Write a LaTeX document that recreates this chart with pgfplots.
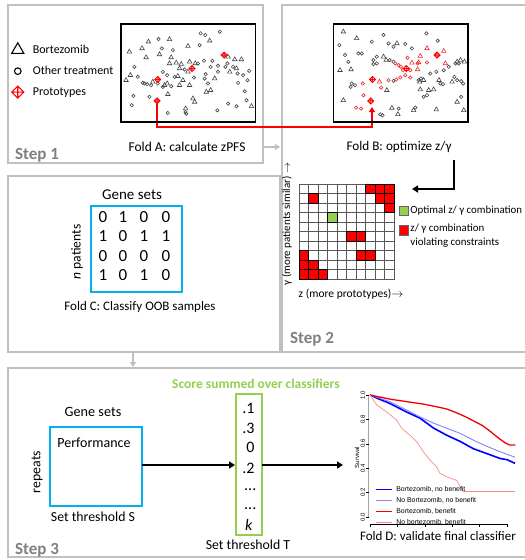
\documentclass[border=0pt]{standalone}
\usepackage{pgfplots}
\pgfplotsset{compat=1.18}
\usepackage{fontspec}
\setmainfont{Carlito}
\newfontfamily\arialf{Liberation Sans}
\usetikzlibrary{arrows.meta}
\definecolor{panel}{RGB}{192,192,192}
\definecolor{steptxt}{RGB}{128,128,128}
\definecolor{cyanb}{RGB}{0,176,240}
\definecolor{greenb}{RGB}{146,208,80}
\definecolor{ptgray}{RGB}{70,70,70}
\definecolor{redpt}{RGB}{240,40,40}
\definecolor{bluek}{RGB}{0,0,255}
\definecolor{lblue}{RGB}{130,130,255}
\definecolor{redk}{RGB}{240,0,0}
\definecolor{pinkk}{RGB}{255,135,135}
\pgfdeclareplotmark{dplus}{%
  \pgfpathmoveto{\pgfqpoint{0pt}{\pgfplotmarksize}}%
  \pgfpathlineto{\pgfqpoint{\pgfplotmarksize}{0pt}}%
  \pgfpathlineto{\pgfqpoint{0pt}{-\pgfplotmarksize}}%
  \pgfpathlineto{\pgfqpoint{-\pgfplotmarksize}{0pt}}%
  \pgfpathclose
  \pgfpathmoveto{\pgfqpoint{-\pgfplotmarksize}{0pt}}%
  \pgfpathlineto{\pgfqpoint{\pgfplotmarksize}{0pt}}%
  \pgfpathmoveto{\pgfqpoint{0pt}{-\pgfplotmarksize}}%
  \pgfpathlineto{\pgfqpoint{0pt}{\pgfplotmarksize}}%
  \pgfusepathqstroke
}
\begin{document}
\begin{tikzpicture}
\begin{scope}[x=1pt,y=1pt]
\useasboundingbox (0,0) rectangle (523,-560);
\fill[white] (0,0) rectangle (523,-560);
% ---------------- panels
\draw[panel, line width=2pt] (8,-5) rectangle (263,-163);
\draw[panel, line width=2pt] (282,-5) rectangle (530,-352);
\draw[panel, line width=2pt] (8,-176) rectangle (280,-352);
\draw[panel, line width=2pt] (8,-368) rectangle (530,-557);
\draw[panel, line width=2pt, -{Triangle[length=5pt,width=6pt]}] (264,-147) -- (280,-147);
\draw[panel, line width=2pt, -{Triangle[length=5pt,width=6pt]}] (133,-353) -- (133,-367);
% step labels
\node[anchor=base west, text=steptxt, font=\fontsize{17}{19}\selectfont\bfseries, inner sep=0pt] at (15,-159) {Step 1};
\node[anchor=base west, text=steptxt, font=\fontsize{17}{19}\selectfont\bfseries, inner sep=0pt] at (290,-343) {Step 2};
\node[anchor=base west, text=steptxt, font=\fontsize{17}{19}\selectfont\bfseries, inner sep=0pt] at (15,-554) {Step 3};
% texts
\node[font=\fontsize{13.5}{15}\selectfont] at (187,-147) {Fold A: calculate zPFS};
\node[font=\fontsize{13.2}{15}\selectfont] at (399,-147) {Fold B: optimize z/γ};
% red connector
\draw[red, line width=2pt, -{Triangle[length=5pt,width=6pt]}] (157,-104) -- (157,-127) -- (372,-127) -- (372,-107);
% black arrow to grid
\draw[black, line width=1.8pt, -{Triangle[length=6pt,width=7pt]}] (454,-160) -- (454,-189) -- (412,-189);
\node[rotate=90, font=\fontsize{11}{13}\selectfont] at (287,-224) {γ (more patients similar) $\rightarrow$};
\node[font=\fontsize{11.5}{13}\selectfont] at (351,-294) {z (more prototypes)$\rightarrow$};
% ---------------- Fold C
\node[font=\fontsize{15}{17}\selectfont] at (132,-195) {Gene sets};
\draw[cyanb, line width=2.5pt] (91,-206) rectangle (182,-292);
\foreach \y/\a/\b/\c/\d in {217/0/1/0/0, 236/1/0/1/1, 256/0/0/0/0, 275/1/0/1/0} {
  \node[font=\fontsize{17}{19}\selectfont] at (103,-\y) {\a};
  \node[font=\fontsize{17}{19}\selectfont] at (123,-\y) {\b};
  \node[font=\fontsize{17}{19}\selectfont] at (144,-\y) {\c};
  \node[font=\fontsize{17}{19}\selectfont] at (166,-\y) {\d};
}
\node[rotate=90, font=\fontsize{13.6}{15}\selectfont] at (77,-252) {\textit{n} patients};
\node[font=\fontsize{13}{15}\selectfont] at (140,-307) {Fold C: Classify OOB samples};
% ---------------- Step 3
\node[text=greenb, font=\fontsize{13.5}{15}\selectfont\bfseries] at (256,-384) {Score summed over classifiers};
\node[font=\fontsize{14.2}{16}\selectfont] at (93,-412) {Gene sets};
\draw[cyanb, line width=2.5pt] (50,-427) rectangle (142,-506);
\node[font=\fontsize{14}{16}\selectfont] at (94,-443) {Performance};
\node[rotate=90, font=\fontsize{13.8}{16}\selectfont] at (37,-472) {repeats};
\node[font=\fontsize{13.8}{16}\selectfont] at (93,-517) {Set threshold S};
\draw[greenb, line width=2.5pt] (236,-394) rectangle (262,-535);
\node[anchor=east, font=\fontsize{16}{18}\selectfont] at (258,-408) {.1};
\node[anchor=east, font=\fontsize{16}{18}\selectfont] at (258,-428) {.3};
\node[anchor=east, font=\fontsize{16}{18}\selectfont] at (258,-447) {0};
\node[anchor=east, font=\fontsize{16}{18}\selectfont] at (258,-468) {.2};
\node[anchor=base west, font=\fontsize{16}{18}\selectfont, inner sep=0pt] at (244,-490) {...};
\node[anchor=base west, font=\fontsize{16}{18}\selectfont, inner sep=0pt] at (244,-509) {...};
\node[anchor=base west, font=\fontsize{16}{18}\selectfont, inner sep=0pt] at (245,-530) {\textit{k}};
\node[font=\fontsize{13.8}{16}\selectfont] at (248,-545) {Set threshold T};
\draw[black, line width=1.8pt, -{Triangle[length=6pt,width=7pt]}] (142,-465) -- (235,-465);
\draw[black, line width=1.8pt, -{Triangle[length=6pt,width=7pt]}] (262,-465) -- (343,-465);
\node[font=\fontsize{13}{15}\selectfont] at (438,-536) {Fold D: validate final classifier};
\end{scope}
% ---------------- Fold A scatter
\begin{axis}[at={(121pt,-122pt)}, anchor=south west, scale only axis, width=134.5pt, height=98pt,
  xmin=10, xmax=412, ymin=12, ymax=305, y dir=reverse, ticks=none,
  axis line style={black, line width=1.6pt},
  legend style={at={(-0.814,0.81)}, anchor=north west, draw=none, fill=none,
    font=\fontsize{12}{14}\selectfont, row sep=7.5pt, column sep=7pt, inner sep=0pt},
  legend cell align=left]
\addlegendimage{only marks, mark=triangle, mark size=7pt, black, mark options={line width=1.1pt}}
\addlegendentry{Bortezomib}
\addlegendimage{only marks, mark=o, mark size=3.3pt, black, mark options={line width=1.1pt}}
\addlegendentry{Other treatment}
\addlegendimage{only marks, mark=dplus, mark size=6pt, red, mark options={line width=1.1pt}}
\addlegendentry{Prototypes}
\addplot[forget plot, only marks, mark=triangle, mark size=2.6pt, ptgray, mark options={line width=0.6pt}] coordinates {
(35,95) (73,85) (92,65) (155,58) (85,112) (125,103) (210,78) (275,62) (155,130) (175,128)
(190,132) (215,125) (232,130) (185,145) (180,168) (195,180) (210,155) (148,190) (185,195) (215,195)
(290,175) (330,110) (350,118) (370,118) (335,155) (355,145) (38,165) (25,180) (105,185) (140,195)
(150,222) (225,235) (230,245) (265,215) (278,210) (203,265) (400,258) (160,112)};
\addplot[forget plot, only marks, mark=o, mark size=1.7pt, ptgray, mark options={line width=0.6pt}] coordinates {
(50,140) (60,170) (122,57) (132,85) (165,90) (248,40) (262,45) (305,35) (245,75) (258,122)
(263,162) (260,175) (228,172) (270,190) (300,155) (300,137) (345,140) (358,160) (360,188) (375,165)
(388,180) (393,152) (380,213) (330,250) (355,258) (385,240) (298,270) (150,278) (203,275) (95,230)
(47,227) (42,255) (75,188) (88,192) (120,190) (135,200) (160,198) (135,155) (148,165) (170,170)
(200,148) (240,130) (283,122) (278,140) (322,140) (328,130) (80,190) (100,195) (205,280)};
\addplot[forget plot, only marks, mark=dplus, mark size=3pt, red, mark options={line width=0.9pt}] coordinates {(318,105) (222,145) (120,178) (118,242)};
\end{axis}
% ---------------- Fold B scatter
\begin{axis}[at={(333.3pt,-122pt)}, anchor=south west, scale only axis, width=134.5pt, height=98pt,
  xmin=10, xmax=412, ymin=12, ymax=305, y dir=reverse, ticks=none,
  axis line style={black, line width=1.6pt}]
\addplot[only marks, mark=triangle, mark size=2.6pt, ptgray, mark options={line width=0.6pt}] coordinates {
(40,35) (80,55) (30,150) (63,148) (40,240) (200,70) (160,110) (168,120) (380,125) (390,120)
(402,125) (326,180) (270,208) (295,210) (310,208) (380,245) (400,270) (318,268) (185,263) (203,282)
(250,270) (170,210) (268,185) (280,180) (365,185)};
\addplot[only marks, mark=o, mark size=1.7pt, ptgray, mark options={line width=0.6pt}] coordinates {
(28,75) (45,105) (55,125) (85,100) (95,100) (125,65) (160,45) (175,70) (190,80) (225,72)
(245,85) (288,40) (322,62) (140,110) (130,132) (140,130) (190,125) (178,120) (300,160) (318,155)
(340,150) (355,140) (375,130) (385,130) (65,190) (75,195) (62,200) (190,182) (265,180) (272,175)
(280,230) (290,225) (330,190) (338,192) (372,170) (380,180) (392,183) (398,190) (392,230) (150,282)
(157,285) (255,262) (205,265) (130,120)};
\addplot[only marks, mark=triangle, mark size=2.6pt, redpt, mark options={line width=0.6pt}] coordinates {
(270,108) (265,127) (290,85) (340,93) (345,130) (262,148) (148,185) (245,128)};
\addplot[only marks, mark=o, mark size=1.7pt, redpt, mark options={line width=0.6pt}] coordinates {
(100,225) (78,262) (93,265) (98,190) (153,202) (175,180) (195,130) (205,135) (212,140) (232,113)
(225,165) (210,172) (198,178) (240,172) (240,150) (290,127) (262,130) (218,150)};
\addplot[only marks, mark=dplus, mark size=3pt, red, mark options={line width=0.9pt}] coordinates {(320,105) (228,145) (127,178) (122,242)};
\end{axis}
% ---------------- grid
\begin{axis}[at={(299pt,-279pt)}, anchor=south west, scale only axis, width=95pt, height=95pt,
  xmin=0, xmax=10, ymin=0, ymax=10, xtick={0,...,10}, ytick={0,...,10},
  xticklabels={}, yticklabels={}, major tick length=0pt,
  grid=major, grid style={black!65, line width=0.9pt}, axis line style={black!65, line width=0.9pt},
  axis on top,
  legend style={at={(1.05,0.79)}, anchor=north west, draw=none, fill=none,
    font=\fontsize{10.9}{13.5}\selectfont, row sep=5pt, inner sep=0pt, cells={align=left}},
  legend cell align=left]
\addplot[only marks, mark=square*, mark size=4.75pt, fill=greenb, draw=none,
  legend image post style={draw=black!60, line width=0.5pt}] coordinates {(3.5,6.5)};
\addlegendentry{Optimal z/ γ combination}
\addplot[only marks, mark=square*, mark size=4.75pt, fill=red, draw=none,
  legend image post style={draw=black!60, line width=0.5pt, yshift=5.5pt}] coordinates {
(7.5,9.5) (8.5,9.5) (9.5,9.5) (1.5,8.5) (8.5,8.5) (9.5,8.5) (9.5,7.5) (5.5,4.5) (6.5,4.5)
(0.5,2.5) (6.5,2.5) (7.5,2.5) (0.5,1.5) (1.5,1.5) (0.5,0.5) (1.5,0.5) (2.5,0.5)};
\addlegendentry{z/ γ combination\\violating constraints}
\end{axis}
% ---------------- survival
\begin{axis}[at={(368.6pt,-524pt)}, anchor=south west, scale only axis, width=149.4pt, height=132.7pt,
  xmin=-1, xmax=108, ymin=-0.057, ymax=1.03,
  axis x line*=bottom, axis y line*=left, axis line style={draw=none},
  xtick={0,20,40,60,80,100}, xticklabels={}, ytick={0,0.2,0.4,0.6,0.8,1},
  yticklabel style={/pgf/number format/fixed, /pgf/number format/fixed zerofill,
    /pgf/number format/precision=1, /pgf/number format/assume math mode=true,
    rotate=90, anchor=south, font=\arialf\fontsize{6}{6.5}\selectfont, inner sep=1pt},
  tick align=outside, major tick length=2.5pt, tick style={black, line width=0.4pt},
  ylabel={Survival}, ylabel style={font=\arialf\fontsize{6}{6.5}\selectfont, yshift=-3pt},
  legend style={at={(0.04,0.3)}, anchor=north west, draw=none, fill=none,
    font=\arialf\fontsize{6.9}{7.5}\selectfont, row sep=0.5pt, column sep=2pt, inner sep=0pt},
  legend cell align=left]
\addlegendimage{legend image code/.code={\draw[bluek, line width=1.6pt] (0pt,0pt) -- (16pt,0pt);}}
\addlegendentry{Bortezomib, no benefit}
\addlegendimage{legend image code/.code={\draw[lblue, line width=0.9pt] (0pt,0pt) -- (16pt,0pt);}}
\addlegendentry{No Bortezomib, no benefit}
\addlegendimage{legend image code/.code={\draw[redk, line width=1.3pt] (0pt,0pt) -- (16pt,0pt);}}
\addlegendentry{Bortezomib, benefit}
\addlegendimage{legend image code/.code={\draw[pinkk, line width=0.7pt] (0pt,0pt) -- (16pt,0pt);}}
\addlegendentry{No bortezomib, benefit}
\addplot[forget plot, draw=bluek, line width=1.6pt] coordinates {
(0,1.0) (7,0.965) (14.6,0.93) (26.8,0.86) (36.5,0.81) (46.2,0.73) (56,0.67) (65.7,0.62) (75.4,0.56) (85.2,0.52) (94.9,0.48) (100,0.47) (105.8,0.44)};
\addplot[forget plot, draw=lblue, line width=0.9pt] coordinates {
(0,1.0) (14.6,0.945) (26.8,0.877) (36.5,0.82) (46.2,0.77) (56,0.727) (65.7,0.686) (75.4,0.63) (85.2,0.58) (94.9,0.535) (105.8,0.49)};
\addplot[forget plot, draw=redk, line width=1.3pt] coordinates {
(0,1.0) (15,0.965) (27,0.945) (39,0.925) (48,0.905) (56,0.885) (63,0.855) (70,0.82) (76,0.785) (82,0.75) (88,0.70) (94,0.645) (99,0.605) (102,0.59) (106,0.59)};
\addplot[forget plot, draw=pinkk, line width=0.7pt] coordinates {
(0,1.0) (2.4,0.96) (4.9,0.92) (12.2,0.86) (19.5,0.795) (23.1,0.727) (29.2,0.67) (34.1,0.617) (38.9,0.535) (43.8,0.467) (48.7,0.41) (51.1,0.358) (56,0.33) (63.3,0.30) (65.7,0.248) (68.1,0.21) (105.8,0.21)};
\draw[black, line width=0.4pt] (axis cs:0,-0.057) -- (axis cs:100,-0.057);
\draw[black, line width=0.4pt] (axis cs:-1,0) -- (axis cs:-1,1);
\end{axis}
\end{tikzpicture}
\end{document}
